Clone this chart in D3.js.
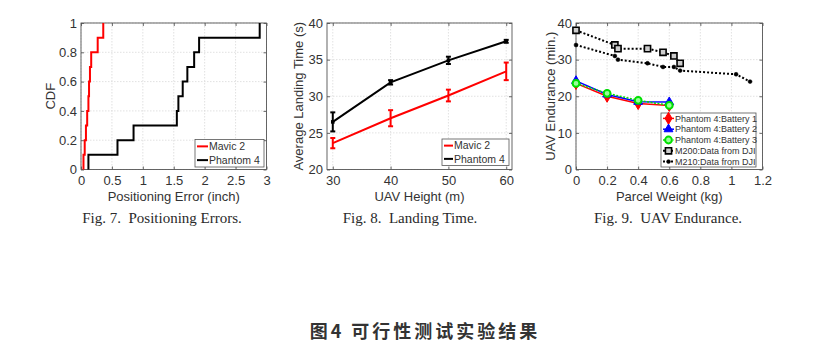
<!DOCTYPE html>
<html><head><meta charset="utf-8">
<script src="https://cdn.jsdelivr.net/npm/d3@7"></script>
<style>
body{margin:0;background:#fff}
svg{display:block}
</style>
</head><body>
<svg id="fig" width="831" height="348"></svg>
<script>
// ---- Fig. 7: positioning error samples (inch), plotted as empirical CDFs
const cdfMavic2   = [0.04, 0.06, 0.08, 0.10, 0.12, 0.13, 0.145, 0.165, 0.27, 0.36];
const cdfPhantom4 = [0.12, 0.59, 0.85, 1.55, 1.575, 1.645, 1.72, 1.83, 1.91, 2.89];
const cdfXTicks = [0, 0.5, 1, 1.5, 2, 2.5, 3];
const cdfYTicks = [0, 0.2, 0.4, 0.6, 0.8, 1];

// ---- Fig. 8: average landing time (s) vs. UAV height (m)
const heights       = [30, 40, 50, 60];
const mavic2Time    = [23.6, 27.0, 30.1, 33.4];
const mavic2Err     = [0.7, 1.1, 0.8, 1.2];
const phantom4Time  = [26.5, 31.9, 34.9, 37.5];
const phantom4Err   = [1.3, 0.3, 0.5, 0.2];
const landXTicks = [30, 40, 50, 60];
const landYTicks = [20, 25, 30, 35, 40];

// ---- Fig. 9: endurance (min.) vs. parcel weight (kg)
const batteryWeight = [0, 0.2, 0.4, 0.6];
const battery1      = [23.5, 20.0, 18.0, 17.5];
const battery2      = [24.2, 20.5, 18.5, 18.4];
const battery3      = [23.5, 20.8, 18.9, 17.5];
const m200Weight    = [0, 0.25, 0.27, 0.46, 0.56, 0.63, 0.67];
const m200Endurance = [38, 34, 33, 33, 32, 31, 29];
const m210Weight    = [0, 0.25, 0.27, 0.46, 0.56, 0.63, 0.67, 1.03, 1.12];
const m210Endurance = [34, 31, 30, 29, 28, 28, 27, 26, 24];
const endXTicks = [0, 0.2, 0.4, 0.6, 0.8, 1, 1.2];
const endYTicks = [0, 10, 20, 30, 40];

const svg = d3.select("#fig");
svg.append("rect").attr("width", 831).attr("height", 348).attr("fill", "#fff");

const SANS = "'Liberation Sans', Arial, Helvetica, sans-serif";
const SERIF = "'Liberation Serif', 'Times New Roman', serif";
const TXT = "#333";
const fmt = d3.format("~g");

// Builds a boxed MATLAB-style axes with dotted grid and inward ticks.
function makeAxes(o) {
  const x = d3.scaleLinear().domain(o.xDomain).range([o.left, o.right]);
  const y = d3.scaleLinear().domain(o.yDomain).range([o.bottom, o.top]);
  const g = svg.append("g");

  const grid = g.append("g").attr("stroke", "#d9d9d9").attr("stroke-width", 0.8)
    .attr("stroke-dasharray", "1.5,1.5");
  grid.selectAll("line.gx").data(o.xTicks).join("line")
    .attr("x1", d => x(d)).attr("x2", d => x(d)).attr("y1", o.top).attr("y2", o.bottom);
  grid.selectAll("line.gy").data(o.yTicks).join("line")
    .attr("y1", d => y(d)).attr("y2", d => y(d)).attr("x1", o.left).attr("x2", o.right);

  const style = sel => {
    sel.select(".domain").remove();
    sel.selectAll(".tick line").attr("stroke", "#444").attr("stroke-width", 0.8);
    sel.selectAll("text").attr("fill", TXT).attr("font-family", SANS).attr("font-size", 13);
  };
  g.append("g").attr("transform", `translate(0,${o.bottom})`)
    .call(d3.axisBottom(x).tickValues(o.xTicks).tickFormat(fmt).tickSize(-3).tickPadding(6))
    .call(style);
  g.append("g").attr("transform", `translate(${o.left},0)`)
    .call(d3.axisLeft(y).tickValues(o.yTicks).tickFormat(fmt).tickSize(-3).tickPadding(4))
    .call(style);
  g.append("g").attr("transform", `translate(0,${o.top})`)
    .call(d3.axisTop(x).tickValues(o.xTicks).tickFormat("").tickSize(-3))
    .call(style);
  g.append("g").attr("transform", `translate(${o.right},0)`)
    .call(d3.axisRight(y).tickValues(o.yTicks).tickFormat("").tickSize(-3))
    .call(style);

  g.append("rect").attr("x", o.left).attr("y", o.top)
    .attr("width", o.right - o.left).attr("height", o.bottom - o.top)
    .attr("fill", "none").attr("stroke", "#555").attr("stroke-width", 0.9);

  // axis titles
  svg.append("text").attr("x", (o.left + o.right) / 2).attr("y", 201)
    .attr("text-anchor", "middle").attr("font-family", SANS).attr("font-size", 13)
    .attr("fill", TXT).text(o.xLabel);
  svg.append("text")
    .attr("transform", `translate(${o.yLabelX},${(o.top + o.bottom) / 2}) rotate(-90)`)
    .attr("text-anchor", "middle").attr("dy", "0.35em").attr("font-family", SANS)
    .attr("font-size", 13).attr("fill", TXT).text(o.yLabel);
  // figure caption
  svg.append("text").attr("x", o.captionX).attr("y", 223)
    .attr("text-anchor", "middle").attr("font-family", SERIF).attr("font-size", 15)
    .attr("fill", "#2a2a2a").attr("xml:space", "preserve").text(o.caption);
  return { x, y, g: svg.append("g") };
}

// Legend box with line samples and optional markers.
function legend(box, items, fontSize) {
  const g = svg.append("g");
  g.append("rect").attr("x", box.x).attr("y", box.y).attr("width", box.w).attr("height", box.h)
    .attr("fill", "#fff").attr("stroke", "#555").attr("stroke-width", 0.8);
  const step = box.h / items.length;
  items.forEach((it, i) => {
    const cy = box.y + step * (i + 0.5);
    g.append("line").attr("x1", box.x + 2).attr("x2", box.x + 2 + box.sample)
      .attr("y1", cy).attr("y2", cy).attr("stroke", it.color)
      .attr("stroke-width", it.width || 2).attr("stroke-dasharray", it.dash || null);
    if (it.marker) it.marker(g, box.x + 2 + box.sample / 2, cy);
    g.append("text").attr("x", box.x + 3 + box.sample).attr("y", cy).attr("dy", "0.35em")
      .attr("font-family", SANS).attr("font-size", fontSize).attr("fill", TXT).text(it.name);
  });
}

// ---------------- Fig. 7 ----------------
{
  const a = makeAxes({
    left: 81, right: 266.5, top: 23, bottom: 169.5,
    xDomain: [0, 3], yDomain: [0, 1], xTicks: cdfXTicks, yTicks: cdfYTicks,
    xLabel: "Positioning Error (inch)", yLabel: "CDF", yLabelX: 50,
    caption: "Fig. 7.  Positioning Errors.", captionX: 162
  });
  const cdfPoints = vals => {
    const s = vals.slice().sort((p, q) => p - q);
    return [[s[0], 0]].concat(s.map((v, i) => [v, (i + 1) / s.length]));
  };
  const line = d3.line().x(d => a.x(d[0])).y(d => a.y(d[1])).curve(d3.curveStepAfter);
  a.g.append("path").attr("d", line(cdfPoints(cdfPhantom4)))
    .attr("fill", "none").attr("stroke", "#000").attr("stroke-width", 2);
  a.g.append("path").attr("d", line(cdfPoints(cdfMavic2)))
    .attr("fill", "none").attr("stroke", "#f00").attr("stroke-width", 2);
  legend({ x: 195, y: 139.5, w: 69, h: 27.5, sample: 11 },
    [{ name: "Mavic 2", color: "#f00" }, { name: "Phantom 4", color: "#000" }], 10.5);
}

// ---------------- Fig. 8 ----------------
{
  const a = makeAxes({
    left: 327, right: 512, top: 23, bottom: 169.5,
    xDomain: [29, 61], yDomain: [20, 40], xTicks: landXTicks, yTicks: landYTicks,
    xLabel: "UAV Height (m)", yLabel: "Average Landing Time (s)", yLabelX: 298,
    caption: "Fig. 8.  Landing Time.", captionX: 410
  });
  const series = [
    { v: phantom4Time, e: phantom4Err, color: "#000", dots: true },
    { v: mavic2Time, e: mavic2Err, color: "#f00", dots: false }
  ];
  series.forEach(s => {
    const pts = heights.map((h, i) => ({ h, v: s.v[i], e: s.e[i] }));
    a.g.append("path").attr("d", d3.line().x(d => a.x(d.h)).y(d => a.y(d.v))(pts))
      .attr("fill", "none").attr("stroke", s.color).attr("stroke-width", 2);
    const eb = a.g.append("g").attr("stroke", s.color).attr("stroke-width", 2);
    pts.forEach(d => {
      const cx = a.x(d.h);
      eb.append("line").attr("x1", cx).attr("x2", cx).attr("y1", a.y(d.v - d.e)).attr("y2", a.y(d.v + d.e));
      eb.append("line").attr("x1", cx - 2.5).attr("x2", cx + 2.5).attr("y1", a.y(d.v - d.e)).attr("y2", a.y(d.v - d.e));
      eb.append("line").attr("x1", cx - 2.5).attr("x2", cx + 2.5).attr("y1", a.y(d.v + d.e)).attr("y2", a.y(d.v + d.e));
    });
    if (s.dots) {
      a.g.selectAll(null).data(pts).join("rect")
        .attr("x", d => a.x(d.h) - 1.8).attr("y", d => a.y(d.v) - 1.8)
        .attr("width", 3.6).attr("height", 3.6).attr("fill", s.color);
    }
  });
  legend({ x: 442, y: 139, w: 67, h: 26.5, sample: 9 },
    [{ name: "Mavic 2", color: "#f00" }, { name: "Phantom 4", color: "#000" }], 10.5);
}

// ---------------- Fig. 9 ----------------
{
  const a = makeAxes({
    left: 576, right: 762.5, top: 23, bottom: 169.5,
    xDomain: [0, 1.2], yDomain: [0, 40], xTicks: endXTicks, yTicks: endYTicks,
    xLabel: "Parcel Weight (kg)", yLabel: "UAV Endurance (min.)", yLabelX: 550,
    caption: "Fig. 9.  UAV Endurance.", captionX: 668
  });
  const sym = (type, size, fill, stroke, sw) => (g, cx, cy) =>
    g.append("path").attr("d", d3.symbol().type(type).size(size)())
      .attr("transform", `translate(${cx},${cy})`)
      .attr("fill", fill).attr("stroke", stroke).attr("stroke-width", sw);
  const series = [
    { name: "Phantom 4:Battery 1", xs: batteryWeight, ys: battery1, color: "#f00", width: 1.5,
      marker: sym(d3.symbolDiamond, 42, "#f00", "#f00", 1) },
    { name: "Phantom 4:Battery 2", xs: batteryWeight, ys: battery2, color: "#00f", width: 1.5,
      marker: sym(d3.symbolTriangle, 34, "#00f", "#00f", 1) },
    { name: "Phantom 4:Battery 3", xs: batteryWeight, ys: battery3, color: "#00e000", width: 1.5,
      dash: "2,1.5", marker: sym(d3.symbolCircle, 36, "#9f9", "#00e000", 2) },
    { name: "M200:Data from DJI", xs: m200Weight, ys: m200Endurance, color: "#000", width: 2,
      dash: "2,2", marker: sym(d3.symbolSquare, 38, "#ccc", "#000", 1.6) },
    { name: "M210:Data from DJI", xs: m210Weight, ys: m210Endurance, color: "#000", width: 2,
      dash: "2,2", marker: sym(d3.symbolCircle, 12, "#000", "#000", 0.5) }
  ];
  const draw = series.slice(3).concat(series.slice(0, 3));
  draw.forEach(s => {
    const pts = s.xs.map((w, i) => [w, s.ys[i]]);
    a.g.append("path").attr("d", d3.line().x(d => a.x(d[0])).y(d => a.y(d[1]))(pts))
      .attr("fill", "none").attr("stroke", s.color).attr("stroke-width", s.width)
      .attr("stroke-dasharray", s.dash || null);
    pts.forEach(d => s.marker(a.g, a.x(d[0]), a.y(d[1])));
  });
  legend({ x: 661, y: 113, w: 95, h: 54, sample: 11 },
    series.map(s => ({ name: s.name, color: s.color, width: s.width, dash: s.dash, marker: s.marker })), 9);
}

// overall figure title
svg.append("text").attr("x", 425).attr("y", 338)
  .attr("text-anchor", "middle").attr("font-family", "'Noto Sans CJK SC', sans-serif")
  .attr("font-size", 18).attr("font-weight", 700).attr("letter-spacing", 3)
  .attr("fill", "#333").text("图4 可行性测试实验结果");
</script>
</body></html>
